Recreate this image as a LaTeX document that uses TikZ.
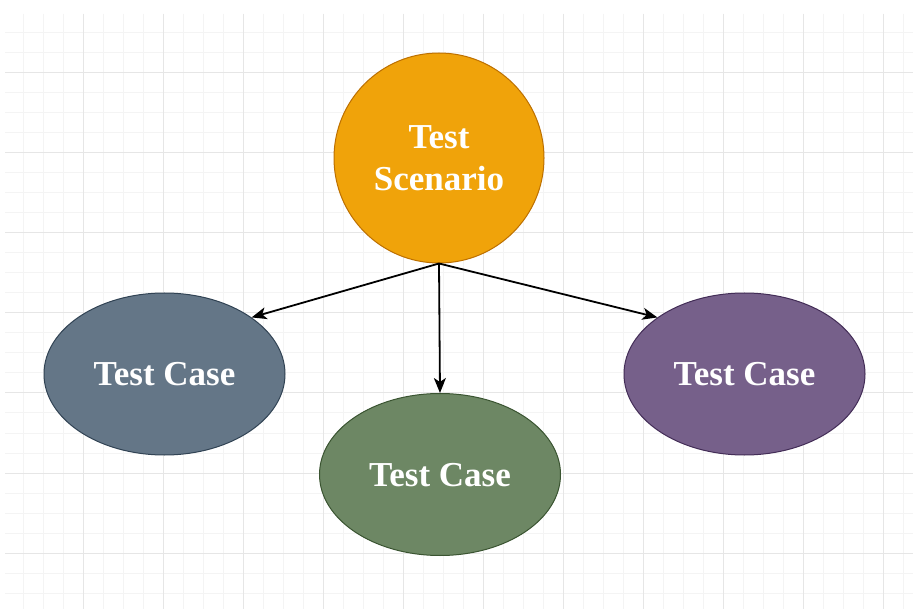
\documentclass[tikz,border=0pt]{standalone}
\usepackage{fontspec}
\setmainfont{Liberation Serif}
\usetikzlibrary{shapes.geometric,arrows.meta}
\definecolor{orangefill}{HTML}{F0A30A}
\definecolor{orangeline}{HTML}{BD7000}
\definecolor{slatefill}{HTML}{647687}
\definecolor{slateline}{HTML}{314354}
\definecolor{greenfill}{HTML}{6D8764}
\definecolor{greenline}{HTML}{3A5431}
\definecolor{purplefill}{HTML}{76608A}
\definecolor{purpleline}{HTML}{432D57}
\definecolor{minorgridc}{HTML}{F4F4F4}
\definecolor{majorgridc}{HTML}{E6E6E6}
\begin{document}
\begin{tikzpicture}[x=1pt,y=-1pt,
  minorgrid/.style={draw=minorgridc,line width=1pt},
  majorgrid/.style={draw=majorgridc,line width=1pt},
  labeltext/.style={text=white,font=\fontsize{35}{42}\selectfont\bfseries,align=center,inner sep=0pt,text depth=0pt},
  scen/.style={circle,labeltext,fill=orangefill,draw=orangeline,line width=1pt,minimum size=210pt},
  tcase/.style={ellipse,labeltext,line width=1pt,minimum width=241pt,minimum height=162pt},
  conn/.style={draw=black,line width=1.8pt,-{Stealth[length=15pt,width=12pt,inset=4pt]}}]
\useasboundingbox (0,0) rectangle (913,609);
\fill[white] (0,0) rectangle (913,609);
\begin{scope}
\clip (5,14) rectangle (913,609);
\foreach \x in {23.5,43.5,...,903.5} \draw[minorgrid] (\x,14) -- (\x,609);
\foreach \y in {33,53,...,609} \draw[minorgrid] (5,\y) -- (913,\y);
\foreach \x in {83.5,163.5,...,883.5} \draw[majorgrid] (\x,14) -- (\x,609);
\foreach \y in {73,153,...,553} \draw[majorgrid] (5,\y) -- (913,\y);
\end{scope}
\node[scen] (s) at (439,158) {Test\\Scenario};
\node[tcase,fill=slatefill,draw=slateline] (l) at (164.5,374) {Test Case};
\node[tcase,fill=greenfill,draw=greenline] (m) at (440,474.5) {Test Case};
\node[tcase,fill=purplefill,draw=purpleline] (r) at (744.5,374) {Test Case};
\draw[conn] (s.south) -- (l.33);
\draw[conn] (s.south) -- (m.north);
\draw[conn] (s.south) -- (r.147);
\end{tikzpicture}
\end{document}
